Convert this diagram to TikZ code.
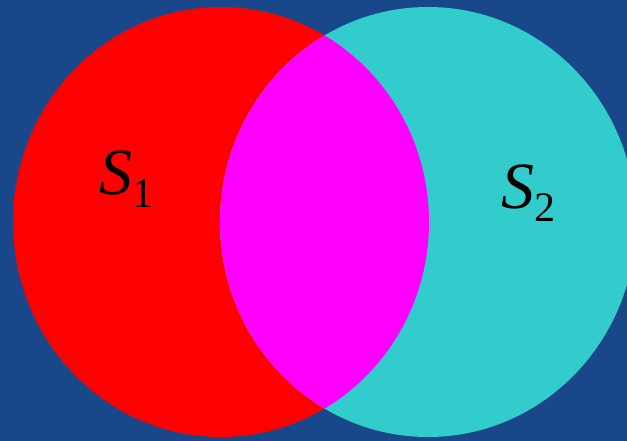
\documentclass[tikz,border=0pt]{standalone}
\usepackage{fontspec}
\setmainfont{Liberation Serif}
\usetikzlibrary{positioning}
\definecolor{slideblue}{HTML}{18488A}
\definecolor{setred}{HTML}{FF0000}
\definecolor{setcyan}{HTML}{33CCCC}
\definecolor{setmagenta}{HTML}{FF00FF}
\newcommand{\setname}[1]{\textit{S}\raisebox{-0.2em}{\fontsize{42}{46}\selectfont #1}}

\begin{document}
\begin{tikzpicture}[x=1pt,y=-1pt,
 setlabel/.style={font=\fontsize{66}{70}\selectfont,inner sep=0pt}]
% background
\fill[slideblue] (0,0) rectangle (627,441);
\useasboundingbox (0,0) rectangle (627,441);
% the two sets
\fill[setred] (221,222) ellipse [x radius=208,y radius=215];
\fill[setcyan] (428,222) ellipse [x radius=208,y radius=215];
\begin{scope}
 \clip (221,222) ellipse [x radius=208,y radius=215];
 \fill[setmagenta] (428,222) ellipse [x radius=208,y radius=215];
\end{scope}
\node[setlabel] (s1) at (126,179) {\setname{1}};
\node[setlabel] (s2) at (528,193) {\setname{2}};
\end{tikzpicture}
\end{document}
